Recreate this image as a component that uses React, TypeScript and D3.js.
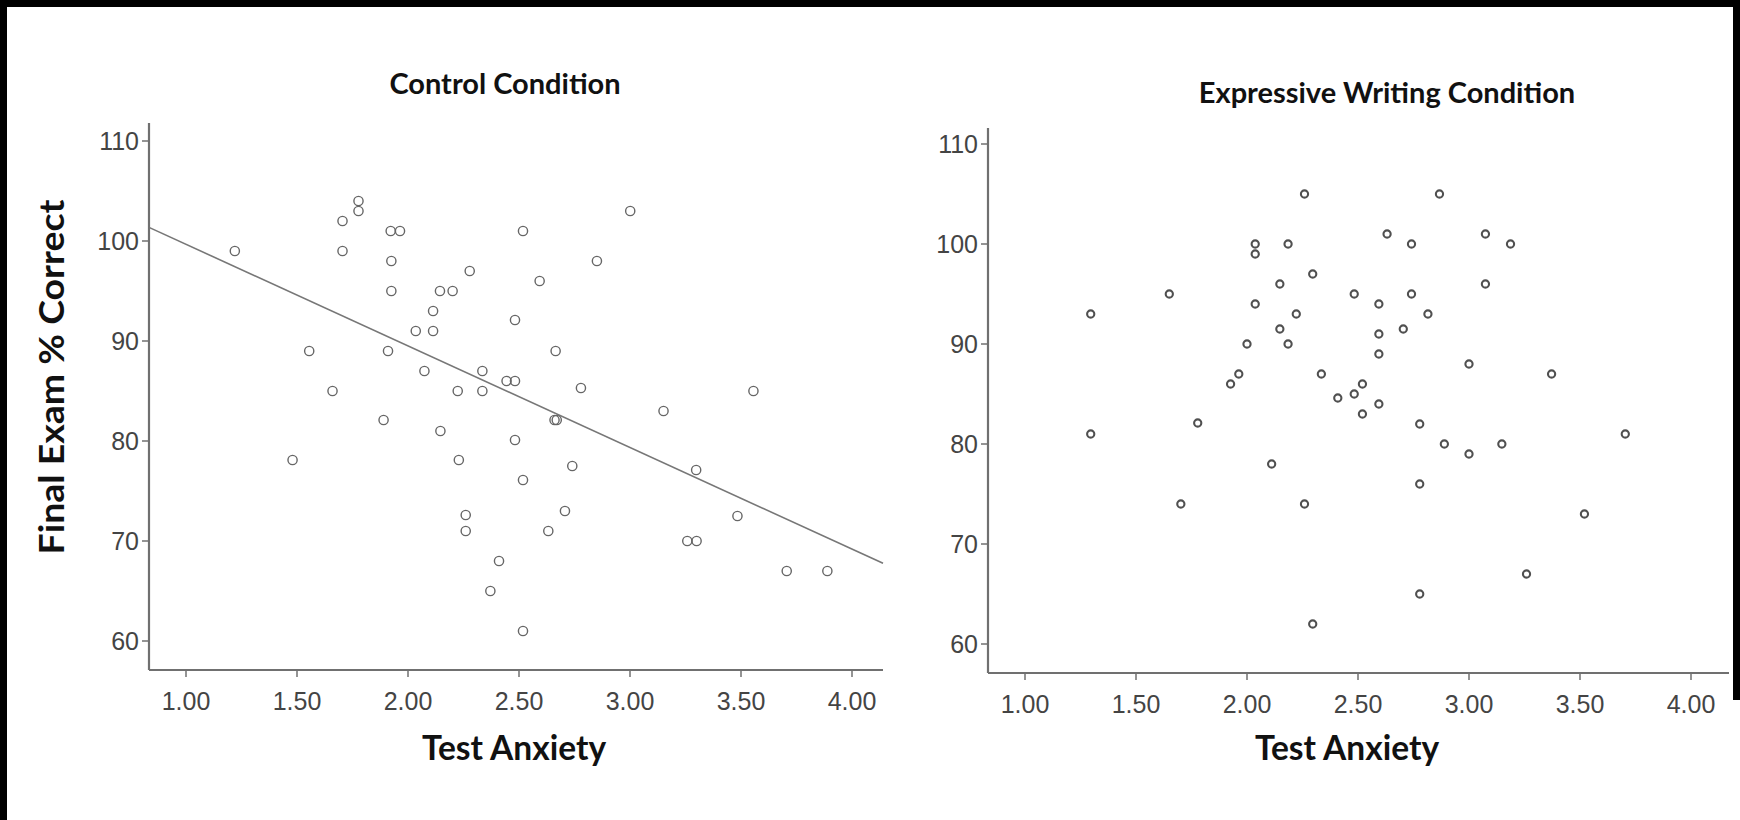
import React from "react";
import * as d3 from "d3";

const xTicks = [1.0, 1.5, 2.0, 2.5, 3.0, 3.5, 4.0];
const yTicks = [60, 70, 80, 90, 100, 110];

const controlX = [1.22, 1.48, 1.555, 1.66, 1.705, 1.705, 1.777, 1.777, 1.89, 1.91, 1.922, 1.964, 1.925, 1.925, 2.035, 2.074, 2.113, 2.113, 2.144, 2.201, 2.146, 2.224, 2.229, 2.26, 2.26, 2.278, 2.335, 2.335, 2.371, 2.41, 2.444, 2.482, 2.482, 2.482, 2.518, 2.518, 2.518, 2.593, 2.632, 2.665, 2.66, 2.67, 2.707, 2.74, 2.779, 2.851, 3.001, 3.151, 3.258, 3.3, 3.298, 3.484, 3.556, 3.706, 3.889];
const controlY = [99, 78.1, 89, 85, 102, 99, 104, 103, 82.1, 89, 101, 101, 98, 95, 91, 87, 93, 91, 95, 95, 81, 85, 78.1, 72.6, 71, 97, 87, 85, 65, 68, 86, 86, 92.1, 80.1, 101, 76.1, 61, 96, 71, 89, 82.1, 82.1, 73, 77.5, 85.3, 98, 103, 83, 70, 70, 77.1, 72.5, 85, 67, 67];

const expressiveX = [1.296, 1.296, 1.65, 1.702, 1.778, 1.926, 1.963, 2.0, 2.037, 2.037, 2.037, 2.111, 2.148, 2.148, 2.185, 2.185, 2.222, 2.259, 2.259, 2.296, 2.296, 2.335, 2.409, 2.483, 2.483, 2.52, 2.52, 2.594, 2.594, 2.594, 2.594, 2.631, 2.704, 2.741, 2.741, 2.778, 2.778, 2.778, 2.815, 2.867, 2.889, 3.0, 3.0, 3.074, 3.074, 3.148, 3.187, 3.259, 3.372, 3.52, 3.704];
const expressiveY = [93, 81, 95, 74, 82.1, 86, 87, 90, 100, 99, 94, 78, 96, 91.5, 100, 90, 93, 105, 74, 97, 62, 87, 84.6, 95, 85, 86, 83, 94, 91, 89, 84, 101, 91.5, 100, 95, 82, 76, 65, 93, 105, 80, 88, 79, 101, 96, 80, 100, 67, 87, 73, 81];

const fitIntercept = 109.83;
const fitSlope = -10.16;

type PanelProps = {
  title: string;
  xs: number[];
  ys: number[];
  axisX: number;
  axisRight: number;
  axisTop: number;
  axisBottom: number;
  x1px: number;
  y100px: number;
  titleX: number;
  titleY: number;
  xLabelX: number;
  r: number;
  sw: number;
  stroke: string;
  fit?: boolean;
};

function Panel(p: PanelProps) {
  const x = d3.scaleLinear().domain([1, 4]).range([p.x1px, p.x1px + 3 * 222]);
  const y = d3.scaleLinear().domain([60, 110]).range([p.y100px + 400, p.y100px - 100]);
  const xMin = x.invert(p.axisX);
  const xMax = x.invert(p.axisRight);
  const tickColor = "#707070";
  const labelColor = "#444";
  return (
    <g>
      <text x={p.titleX} y={p.titleY} textAnchor="middle" fontFamily="Lato, 'Open Sans', sans-serif" fontWeight="bold" fontSize={29} fill="#111">{p.title}</text>
      {p.fit && (
        <line
          x1={x(xMin)} y1={y(fitIntercept + fitSlope * xMin)}
          x2={x(xMax)} y2={y(fitIntercept + fitSlope * xMax)}
          stroke="#777" strokeWidth={1.6}
        />
      )}
      {p.xs.map((v, i) => (
        <circle key={i} cx={x(v)} cy={y(p.ys[i])} r={p.r} fill="none" stroke={p.stroke} strokeWidth={p.sw} />
      ))}
      <line x1={p.axisX} y1={p.axisTop} x2={p.axisX} y2={p.axisBottom} stroke={tickColor} strokeWidth={2.2} />
      <line x1={p.axisX} y1={p.axisBottom} x2={p.axisRight} y2={p.axisBottom} stroke={tickColor} strokeWidth={2.2} />
      {yTicks.map((t) => (
        <g key={"y" + t}>
          <line x1={p.axisX - 7} x2={p.axisX} y1={y(t)} y2={y(t)} stroke={tickColor} strokeWidth={1.5} />
          <text x={p.axisX - 10} y={y(t)} dy="0.35em" textAnchor="end" fontFamily="'Liberation Sans', Arial, sans-serif" fontSize={25} fill={labelColor}>{t}</text>
        </g>
      ))}
      {xTicks.map((t) => (
        <g key={"x" + t}>
          <line x1={x(t)} x2={x(t)} y1={p.axisBottom} y2={p.axisBottom + 7} stroke={tickColor} strokeWidth={1.5} />
          <text x={x(t)} y={p.axisBottom + 40} textAnchor="middle" fontFamily="'Liberation Sans', Arial, sans-serif" fontSize={25} fill={labelColor}>{t.toFixed(2)}</text>
        </g>
      ))}
      <text x={p.xLabelX} y={760} textAnchor="middle" fontFamily="Lato, 'Open Sans', sans-serif" fontWeight="bold" fontSize={33.5} fill="#111">Test Anxiety</text>
    </g>
  );
}

export default function App() {
  return (
    <svg width={1740} height={820} style={{ position: "absolute", left: 0, top: 0, background: "#fff" }}>
      <rect x={0} y={0} width={1740} height={820} fill="#fff" />
      <rect x={0} y={0} width={1740} height={7} fill="#000" />
      <rect x={0} y={0} width={7} height={820} fill="#000" />
      <rect x={1733} y={0} width={7} height={700} fill="#000" />
      <Panel
        title="Control Condition"
        xs={controlX}
        ys={controlY}
        axisX={149}
        axisRight={883}
        axisTop={123}
        axisBottom={670}
        x1px={186}
        y100px={241}
        titleX={505}
        titleY={94}
        xLabelX={514}
        r={4.6}
        sw={1.4}
        stroke="#666"
        fit
      />
      <Panel
        title="Expressive Writing Condition"
        xs={expressiveX}
        ys={expressiveY}
        axisX={988}
        axisRight={1729}
        axisTop={128}
        axisBottom={673}
        x1px={1025}
        y100px={244}
        titleX={1387}
        titleY={103}
        xLabelX={1347}
        r={3.6}
        sw={2.1}
        stroke="#505050"
      />
      <text
        transform="translate(64,377) rotate(-90)"
        textAnchor="middle"
        fontFamily="Lato, 'Open Sans', sans-serif"
        fontWeight="bold"
        fontSize={34}
        textLength={355}
        lengthAdjust="spacingAndGlyphs"
        fill="#111"
      >
        Final Exam % Correct
      </text>
    </svg>
  );
}
